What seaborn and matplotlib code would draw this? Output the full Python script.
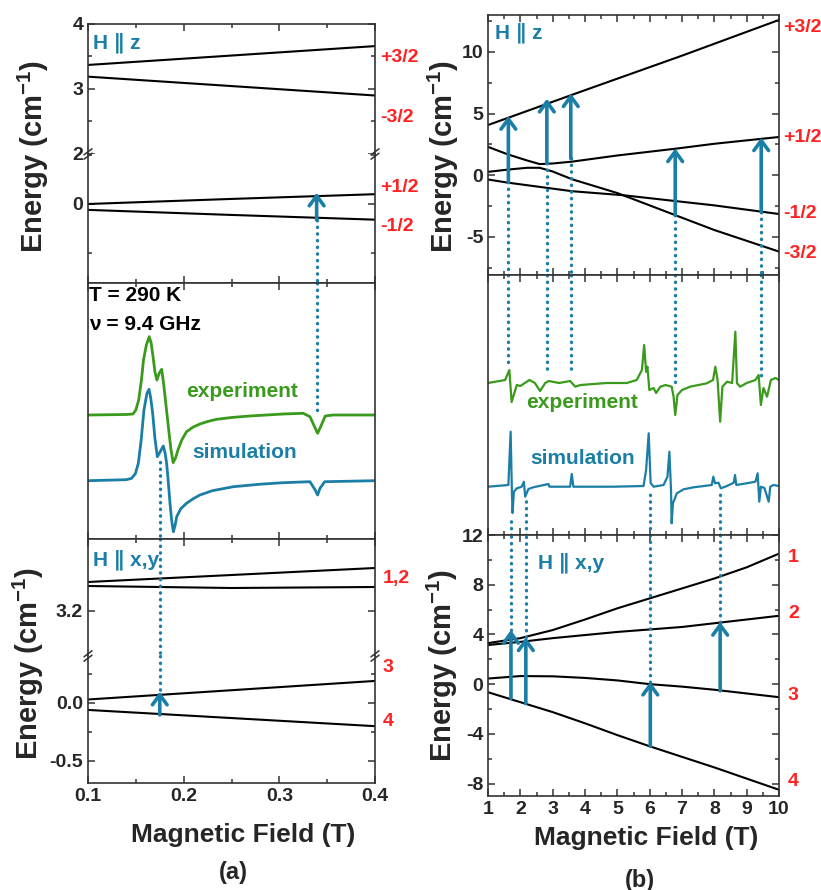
import numpy as np
import pandas as pd
import matplotlib
matplotlib.use("Agg")
import matplotlib.pyplot as plt
import seaborn as sns
from matplotlib.ticker import MultipleLocator, FixedLocator, FormatStrFormatter, NullLocator

# ---------------------------------------------------------------- data
# (a) low field, H || z  (upper part of broken axis)
a_z_field = [0.1, 0.245, 0.4]
a_z_p32 = [3.37, 3.51, 3.66]
a_z_m32 = [3.19, 3.05, 2.90]
# (a) lower part
a_z_p12 = [0.00, 0.05, 0.10]
a_z_m12 = [-0.06, -0.11, -0.16]

# (a) H || x,y
a_xy_field = [0.1, 0.25, 0.4]
a_xy_1 = [3.345, 3.38, 3.415]
a_xy_2 = [3.325, 3.315, 3.32]
a_xy_3 = [0.03, 0.11, 0.19]
a_xy_4 = [-0.06, -0.13, -0.20]

# (a) spectra (signal relative to baseline, a.u.)
a_exp_field = [0.1, 0.14, 0.147, 0.150, 0.153, 0.156, 0.158, 0.161, 0.164, 0.166, 0.168, 0.170,
               0.172, 0.1745, 0.177, 0.179, 0.1815, 0.184, 0.1865, 0.189, 0.1915, 0.194, 0.198,
               0.203, 0.210, 0.217, 0.225, 0.2345, 0.250, 0.269, 0.304, 0.325, 0.332, 0.336,
               0.340, 0.344, 0.348, 0.356, 0.4]
a_exp_sig = [0, 0.05, 0.1, 0.5, 1.5, 3.6, 5.5, 7.0, 7.83, 7.2, 5.83, 4.3, 3.5, 4.2, 4.57, 3.17,
             1.0, -1.17, -3.3, -4.77, -4.3, -3.5, -2.5, -1.67, -1.2, -0.9, -0.65, -0.43, -0.25,
             -0.1, 0.1, 0.17, -0.17, -1.0, -1.83, -1.0, -0.1, 0, 0]
a_sim_field = [0.1, 0.14, 0.1456, 0.1495, 0.1526, 0.1555, 0.1585, 0.1615, 0.1638, 0.1655,
               0.1676, 0.170, 0.1725, 0.1755, 0.1787, 0.1805, 0.1822, 0.184, 0.1857, 0.1875,
               0.1892, 0.191, 0.1927, 0.197, 0.203, 0.210, 0.217, 0.230, 0.252, 0.280, 0.304,
               0.332, 0.3375, 0.340, 0.3425, 0.3475, 0.4]
a_sim_sig = [0, 0.1, 0.24, 0.7, 1.74, 4.0, 7.07, 8.7, 9.14, 8.3, 6.74, 4.2, 2.4, 2.9, 3.47, 2.8,
             1.74, -0.2, -2.26, -4.0, -5.1, -4.5, -3.6, -2.8, -2.26, -1.8, -1.43, -1.0, -0.6,
             -0.35, -0.2, -0.1, -0.93, -1.43, -0.76, -0.1, 0]

# (a) transitions
a_z_arrow = dict(field=0.339, tail=-0.163, tip=0.115)
a_xy_arrow = dict(field=0.175, tail=-0.103, tip=0.097)
a_mid_dot_top_end = 12.6     # dotted line from top of spectrum panel down to this level
a_mid_dot_bot_start = 7.7    # dotted line from this level down to bottom

# (b) high field, H || z
b_z_f1 = [1, 4, 7, 10]
b_z_p32 = [4.07, 6.9, 9.7, 12.6]
b_z_f = [1, 1.6, 2.2, 2.6, 3.0, 3.6, 5, 6.8, 8, 10]
b_z_p12 = [2.3, 1.7, 1.2, 0.9, 0.95, 1.1, 1.6, 2.15, 2.55, 3.1]
b_z_m32 = [0.27, 0.45, 0.6, 0.6, 0.3, -0.33, -1.45, -3.25, -4.45, -6.2]
b_z_f4 = [1, 1.6, 2.6, 3.6, 5.2, 6.8, 8, 10]
b_z_m12 = [-0.35, -0.6, -0.95, -1.3, -1.63, -2.1, -2.45, -3.15]

# (b) H || x,y
b_xy_f = [1, 2, 3, 4, 5, 6, 7, 8, 9, 10]
b_xy_1 = [3.3, 3.7, 4.35, 5.2, 6.1, 6.9, 7.7, 8.5, 9.4, 10.5]
b_xy_2 = [3.15, 3.4, 3.7, 3.95, 4.2, 4.4, 4.6, 4.9, 5.2, 5.5]
b_xy_3 = [0.45, 0.65, 0.63, 0.5, 0.3, 0.0, -0.2, -0.45, -0.75, -1.05]
b_xy_4 = [-0.65, -1.45, -2.25, -3.15, -4.1, -5.0, -5.85, -6.7, -7.6, -8.5]

# (b) spectra
b_exp_field = [1.0, 1.53, 1.66, 1.73, 1.89, 2.0, 2.28, 2.45, 2.61, 2.77, 2.88, 3.2, 3.54, 3.7,
               3.86, 4.67, 5.29, 5.6, 5.76, 5.83, 5.89, 5.93, 5.99, 6.12, 6.2, 6.33, 6.49, 6.68,
               6.74, 6.79, 6.86, 7.0, 7.25, 7.77, 7.96, 8.03, 8.1, 8.18, 8.25, 8.39, 8.55, 8.65,
               8.7, 8.8, 9.0, 9.27, 9.37, 9.44, 9.52, 9.63, 9.75, 9.89, 10.0]
b_exp_sig = [0, 0.3, 1.3, -1.9, -0.2, -0.3, 0.3, 0, -0.8, 0, 0.2, 0, 0.2, -0.37, -0.2, 0, 0,
             0.3, 1.3, 3.8, 1.13, 1.63, -0.7, -0.5, -1.0, -0.37, -0.2, -0.37, -1.37, -3.2, -1.2,
             -0.7, -0.37, -0.03, 0.3, 1.63, 0.3, -3.87, -0.37, 0.13, 0, 5.13, -0.03, -0.37, 0,
             0.3, 0.8, -2.2, -0.5, -1.37, 0.3, 0.5, 0.3]
b_sim_field = [1.0, 1.63, 1.70, 1.74, 1.76, 1.8, 1.89, 2.04, 2.11, 2.15, 2.25, 2.4, 2.87, 2.9,
               3.54, 3.59, 3.64, 4.88, 5.81, 5.89, 5.97, 6.03, 6.12, 6.43, 6.55, 6.61, 6.66,
               6.68, 6.72, 6.84, 7.05, 7.36, 7.92, 7.97, 8.02, 8.13, 8.2, 8.39, 8.6, 8.64,
               8.68, 9.0, 9.27, 9.34, 9.39, 9.44, 9.55, 9.68, 9.73, 9.83, 10.0]
b_sim_sig = [0, 0.17, 5.5, -0.63, -2.63, -0.5, -0.17, 0, 0.5, -1.0, -0.23, -0.06, 0.27, 0, 0,
             1.27, 0, 0, 0.07, 1.67, 5.34, 0.37, 0, 0.17, 1.0, 3.5, -0.33, -3.66, -1.66, -0.66,
             -0.26, -0.06, 0.17, 1.0, 0.34, 0.4, -0.16, 0.07, 0.4, 1.17, 0.17, 0.34, 0.5, 1.34,
             -1.5, 0, -0.13, -1.5, 0, 0.17, 0.07]

# (b) transitions
b_z_arr_field = [1.63, 2.82, 3.56, 6.79, 9.45]
b_z_arr_tail = [-0.55, 0.95, 1.36, -3.25, -2.98]
b_z_arr_tip = [4.8, 6.2, 6.64, 2.17, 3.06]
b_mid_top_end = [16.7, 16.2, 16.3, 15.0, 15.8]
b_xy_arr_field = [1.71, 2.17, 6.02, 8.18]
b_xy_arr_tail = [-1.15, -1.56, -5.0, -0.54]
b_xy_arr_tip = [4.35, 3.76, 0.19, 5.0]
b_mid_bot_end = [2.0, 3.8, 4.3, 4.3]

z_labels = ["+3/2", "-3/2", "+1/2", "-1/2"]
xy_labels_a = ["1,2", "3", "4"]
xy_labels_b = ["1", "2", "3", "4"]

# ---------------------------------------------------------------- style
sns.set_theme(style="ticks")
plt.rcParams["font.family"] = ["Liberation Sans", "DejaVu Sans"]
plt.rcParams["font.weight"] = "bold"
plt.rcParams["axes.linewidth"] = 1.2
plt.rcParams["axes.edgecolor"] = "#333333"
plt.rcParams["mathtext.fontset"] = "custom"
plt.rcParams["mathtext.rm"] = "Liberation Sans:bold"
plt.rcParams["mathtext.bf"] = "Liberation Sans:bold"

BLUE = "#1b7ea6"
GREEN = "#3a9a1c"
RED = "#ff2222"
W, H = 821, 890

fig = plt.figure(figsize=(W / 100, H / 100), dpi=100)


def add(l, t, r, b):
    return fig.add_axes([l / W, 1 - b / H, (r - l) / W, (b - t) / H])


def ftext(px, py, s, **kw):
    fig.text(px / W, 1 - py / H, s, **kw)


a_top_u = add(88, 24, 375, 154)
a_top_l = add(88, 154, 375, 283)
a_mid = add(88, 283, 375, 539)
a_bot_u = add(88, 539, 375, 656)
a_bot_l = add(88, 656, 375, 783)
b_top = add(488, 15, 779, 275)
b_mid = add(488, 275, 779, 535)
b_bot = add(488, 535, 779, 796)


def style(ax, left):
    if left:
        ax.set_xlim(0.1, 0.4)
        ax.xaxis.set_major_locator(MultipleLocator(0.1))
        ax.xaxis.set_minor_locator(MultipleLocator(0.05))
        ax.xaxis.set_major_formatter(FormatStrFormatter("%.1f"))
    else:
        ax.set_xlim(1, 10)
        ax.xaxis.set_major_locator(MultipleLocator(1))
        ax.xaxis.set_minor_locator(MultipleLocator(0.5))
    ax.tick_params(which="both", direction="in", top=True, right=True,
                   labelsize=14, width=1.1, color="#333333", labelbottom=False)
    ax.tick_params(which="major", length=5)
    ax.tick_params(which="minor", length=3)
    ax.set_xlabel("")
    ax.set_ylabel("")


for ax in [a_top_u, a_top_l, a_mid, a_bot_u, a_bot_l]:
    style(ax, True)
for ax in [b_top, b_mid, b_bot]:
    style(ax, False)


def line(ax, x, y, color="black", lw=1.5):
    sns.lineplot(x=x, y=y, ax=ax, color=color, lw=lw, estimator=None, sort=False,
                 legend=False)


DOT = dict(color=BLUE, lw=2.4, ls=(0, (0.1, 1.9)), dash_capstyle="round", solid_capstyle="round")


def dotted(ax, x, y0, y1):
    ax.plot([x, x], [y0, y1], clip_on=False, **DOT)


def arrow(ax, x, y0, y1):
    ax.annotate("", xy=(x, y1), xytext=(x, y0),
                arrowprops=dict(arrowstyle="->,head_length=0.45,head_width=0.33",
                                color=BLUE, lw=2.6, mutation_scale=16,
                                shrinkA=0, shrinkB=0))


def breakmarks(ax_low, hpx, wpx):
    dx, dy, g = 4 / wpx, 3 / hpx, 2.2 / hpx
    for xx in (0, 1):
        for off in (-g, g):
            ax_low.plot([xx - dx, xx + dx], [1 - dy + off, 1 + dy + off],
                        transform=ax_low.transAxes, clip_on=False, color="#333333", lw=1.1)


# ---------------------------------------------------------------- (a) top
a_top_u.set_ylim(2, 4)
a_top_u.yaxis.set_major_locator(FixedLocator([2, 3, 4]))
a_top_u.yaxis.set_minor_locator(FixedLocator([2.5, 3.5]))
a_top_u.yaxis.set_major_formatter(FormatStrFormatter("%g"))
a_top_u.spines["bottom"].set_visible(False)
a_top_u.tick_params(which="both", bottom=False)
line(a_top_u, a_z_field, a_z_p32)
line(a_top_u, a_z_field, a_z_m32)
a_top_u.text(0.017, 0.854, "H \u2225 z", transform=a_top_u.transAxes, color=BLUE,
             fontsize=15, fontweight="bold", va="center", ha="left")

a_top_l.set_ylim(-0.806, 0.51)
a_top_l.yaxis.set_major_locator(FixedLocator([0]))
a_top_l.yaxis.set_minor_locator(FixedLocator([-0.5, 0.5]))
a_top_l.yaxis.set_major_formatter(FormatStrFormatter("%g"))
a_top_l.spines["top"].set_visible(False)
a_top_l.tick_params(which="both", top=False)
line(a_top_l, a_z_field, a_z_p12)
line(a_top_l, a_z_field, a_z_m12)
dotted(a_top_l, a_z_arrow["field"], a_z_arrow["tail"], -0.806)
arrow(a_top_l, a_z_arrow["field"], a_z_arrow["tail"], a_z_arrow["tip"])
breakmarks(a_top_l, 129, 287)

# ---------------------------------------------------------------- (a) middle
a_mid.set_ylim(0, 25.6)
a_mid.yaxis.set_major_locator(NullLocator())
a_mid.yaxis.set_minor_locator(NullLocator())
exp_off_a, sim_off_a = 12.4, 5.83
line(a_mid, a_exp_field, np.array(a_exp_sig) + exp_off_a, color=GREEN, lw=2.0)
line(a_mid, a_sim_field, np.array(a_sim_sig) + sim_off_a, color=BLUE, lw=2.0)
dotted(a_mid, a_z_arrow["field"], 25.6, a_mid_dot_top_end)
dotted(a_mid, a_xy_arrow["field"], a_mid_dot_bot_start, 0)
a_mid.text(0.004, 0.953, "T = 290 K", transform=a_mid.transAxes, fontsize=15,
           fontweight="bold", va="center", ha="left", color="black")
a_mid.text(0.004, 0.836, "\u03bd = 9.4 GHz", transform=a_mid.transAxes, fontsize=15,
           fontweight="bold", va="center", ha="left", color="black")
a_mid.text(0.261, 14.7, "experiment", color=GREEN, fontsize=15, fontweight="bold",
           ha="center", va="center")
a_mid.text(0.264, 8.6, "simulation", color=BLUE, fontsize=15, fontweight="bold",
           ha="center", va="center")

# ---------------------------------------------------------------- (a) bottom
a_bot_u.set_ylim(2.975, 3.56)
a_bot_u.yaxis.set_major_locator(FixedLocator([3.2]))
a_bot_u.yaxis.set_minor_locator(NullLocator())
a_bot_u.yaxis.set_major_formatter(FormatStrFormatter("%.1f"))
a_bot_u.spines["bottom"].set_visible(False)
a_bot_u.tick_params(which="both", bottom=False)
line(a_bot_u, a_xy_field, a_xy_1)
line(a_bot_u, a_xy_field, a_xy_2)
dotted(a_bot_u, a_xy_arrow["field"], 3.56, 2.975)
a_bot_u.text(0.017, 0.82, "H \u2225 x,y", transform=a_bot_u.transAxes, color=BLUE,
             fontsize=15, fontweight="bold", va="center", ha="left")

a_bot_l.set_ylim(-0.69, 0.405)
a_bot_l.yaxis.set_major_locator(FixedLocator([-0.5, 0.0]))
a_bot_l.yaxis.set_minor_locator(FixedLocator([-0.25, 0.25]))
a_bot_l.yaxis.set_major_formatter(FormatStrFormatter("%.1f"))
a_bot_l.spines["top"].set_visible(False)
a_bot_l.tick_params(which="both", top=False, labelbottom=True)
line(a_bot_l, a_xy_field, a_xy_3)
line(a_bot_l, a_xy_field, a_xy_4)
dotted(a_bot_l, a_xy_arrow["field"], 0.405, a_xy_arrow["tip"])
arrow(a_bot_l, a_xy_arrow["field"], a_xy_arrow["tail"], a_xy_arrow["tip"])
breakmarks(a_bot_l, 127, 287)

# ---------------------------------------------------------------- (b) top
b_top.set_ylim(-8.1, 13.0)
b_top.yaxis.set_major_locator(FixedLocator([-5, 0, 5, 10]))
b_top.yaxis.set_minor_locator(MultipleLocator(2.5))
b_top.yaxis.set_major_formatter(FormatStrFormatter("%g"))
line(b_top, b_z_f1, b_z_p32)
line(b_top, b_z_f, b_z_p12)
line(b_top, b_z_f, b_z_m32)
line(b_top, b_z_f4, b_z_m12)
for f, t0, t1 in zip(b_z_arr_field, b_z_arr_tail, b_z_arr_tip):
    dotted(b_top, f, t0, -8.1)
    arrow(b_top, f, t0, t1)
b_top.text(0.024, 0.931, "H \u2225 z", transform=b_top.transAxes, color=BLUE,
           fontsize=15, fontweight="bold", va="center", ha="left")

# ---------------------------------------------------------------- (b) middle
b_mid.set_ylim(0, 26.0)
b_mid.yaxis.set_major_locator(NullLocator())
b_mid.yaxis.set_minor_locator(NullLocator())
exp_off_b, sim_off_b = 15.2, 4.83
line(b_mid, b_exp_field, np.array(b_exp_sig) + exp_off_b, color=GREEN, lw=1.6)
line(b_mid, b_sim_field, np.array(b_sim_sig) + sim_off_b, color=BLUE, lw=1.6)
for f, e in zip(b_z_arr_field, b_mid_top_end):
    dotted(b_mid, f, 26.0, e)
for f, e in zip(b_xy_arr_field, b_mid_bot_end):
    dotted(b_mid, f, 0, e)
b_mid.text(3.91, 13.2, "experiment", color=GREEN, fontsize=15, fontweight="bold",
           ha="center", va="center")
b_mid.text(3.94, 7.7, "simulation", color=BLUE, fontsize=15, fontweight="bold",
           ha="center", va="center")

# ---------------------------------------------------------------- (b) bottom
b_bot.set_ylim(-9.0, 12.0)
b_bot.yaxis.set_major_locator(FixedLocator([-8, -4, 0, 4, 8, 12]))
b_bot.yaxis.set_minor_locator(MultipleLocator(2))
b_bot.yaxis.set_major_formatter(FormatStrFormatter("%g"))
b_bot.tick_params(which="both", labelbottom=True)
line(b_bot, b_xy_f, b_xy_1)
line(b_bot, b_xy_f, b_xy_2)
line(b_bot, b_xy_f, b_xy_3)
line(b_bot, b_xy_f, b_xy_4)
for f, t0, t1 in zip(b_xy_arr_field, b_xy_arr_tail, b_xy_arr_tip):
    dotted(b_bot, f, t1, 12.0)
    arrow(b_bot, f, t0, t1)
b_bot.text(0.172, 0.893, "H \u2225 x,y", transform=b_bot.transAxes, color=BLUE,
           fontsize=15, fontweight="bold", va="center", ha="left")

for ax in [a_top_u, a_top_l, a_mid, a_bot_u, a_bot_l, b_top, b_mid, b_bot]:
    for lab in ax.get_xticklabels() + ax.get_yticklabels():
        lab.set_fontweight("bold")

# ---------------------------------------------------------------- labels
RK = dict(color=RED, fontsize=14, fontweight="bold", ha="left", va="center")
for s, py in zip(z_labels, [58, 117, 187, 227]):
    ftext(380, py, s, **RK)
for s, py in zip(xy_labels_a, [578, 667, 721]):
    ftext(383, py, s, **RK)
for s, py in zip(["+3/2", "+1/2", "-1/2", "-3/2"], [27, 137, 213, 253]):
    ftext(783, py, s, **RK)
for s, py in zip(xy_labels_b, [557, 613, 695, 782]):
    ftext(788, py, s, **RK)

YL = dict(fontsize=21, fontweight="bold", rotation=90, ha="center", va="center")
ylab = r"Energy (cm$^{\mathbf{-1}}$)"
ftext(33, 156, ylab, **YL)
ftext(28, 663, ylab, **YL)
ftext(443, 156, ylab, **YL)
ftext(442, 665, ylab, **YL)

XL = dict(fontsize=19, fontweight="bold", ha="center", va="center")
ftext(243, 835, "Magnetic Field (T)", **XL)
ftext(646, 838, "Magnetic Field (T)", **XL)
ftext(233, 873, "(a)", fontsize=17, fontweight="bold", ha="center", va="center")
ftext(640, 880, "(b)", fontsize=17, fontweight="bold", ha="center", va="center")

fig.savefig("out.png", dpi=100)
